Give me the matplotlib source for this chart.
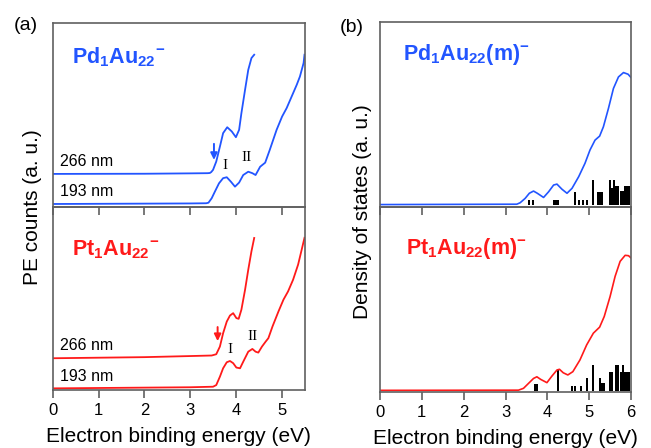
import matplotlib
matplotlib.use("Agg")
import matplotlib.pyplot as plt

# ── Colours / fonts ───────────────────────────────────────────────────────────

BLUE  = "#2255FF"
RED   = "#FF1A1A"
SPINE = "#606060"

plt.rcParams["font.family"] = ["Liberation Sans", "DejaVu Sans"]
plt.rcParams["mathtext.fontset"] = "custom"
plt.rcParams["mathtext.rm"] = "Liberation Sans"
plt.rcParams["mathtext.bf"] = "Liberation Sans:bold"

# ── Data: (a) photoelectron spectra ───────────────────────────────────────────

pd_266_e = [0.0, 2.0, 3.0, 3.38, 3.43, 3.46, 3.50, 3.57, 3.65, 3.72, 3.81, 3.91,
            4.00, 4.07, 4.12, 4.20, 4.27, 4.34, 4.40]
pd_266_y = [18.2, 18.3, 18.5, 18.6, 18.7, 19.2, 20.4, 24.9, 33.0, 40.3, 43.5, 41.2,
            38.1, 42.1, 51.1, 63.8, 74.6, 81.0, 82.8]

pd_193_e = [0.0, 3.0, 3.35, 3.40, 3.47, 3.54, 3.63, 3.72, 3.80, 3.89, 3.98, 4.07,
            4.16, 4.27, 4.36, 4.43, 4.53, 4.64, 4.74, 4.89, 5.01, 5.11, 5.22, 5.33,
            5.40, 5.48, 5.50]
pd_193_y = [1.9, 2.2, 2.3, 2.6, 5.0, 8.6, 13.1, 15.9, 16.4, 14.0, 11.3, 13.5,
            17.6, 19.4, 18.6, 17.6, 22.1, 24.3, 31.2, 42.1, 49.3, 53.9, 60.2, 66.5,
            71.0, 78.3, 82.8]

pt_266_e = [0.0, 2.0, 3.0, 3.47, 3.57, 3.65, 3.72, 3.80, 3.87, 3.94, 4.01, 4.06,
            4.12, 4.20, 4.27, 4.34, 4.40]
pt_266_y = [17.4, 18.0, 18.6, 18.9, 19.6, 23.8, 31.1, 37.5, 40.8, 42.1, 39.4, 39.0,
            44.0, 54.9, 65.9, 76.0, 83.3]

pt_193_e = [0.0, 3.0, 3.50, 3.57, 3.65, 3.72, 3.80, 3.87, 3.94, 4.01, 4.09, 4.16,
            4.27, 4.36, 4.43, 4.49, 4.57, 4.65, 4.71, 4.80, 4.93, 5.04, 5.14, 5.25,
            5.36, 5.43, 5.50]
pt_193_y = [0.9, 1.5, 1.8, 2.7, 7.3, 11.9, 15.2, 15.9, 14.7, 12.3, 11.9, 15.5,
            21.0, 22.5, 21.0, 20.5, 23.8, 26.5, 28.4, 34.8, 43.0, 49.5, 54.0, 60.4,
            68.7, 76.0, 83.4]

# onset arrows and band labels (energy, a.u.)
pd_arrow = (3.52, 25.8, 34.5)
pt_arrow = (3.60, 26.8, 34.5)
pd_bands = [(3.77, 22.7, "I"), (4.24, 27.0, "II")]
pt_bands = [(3.88, 22.0, "I"), (4.36, 29.3, "II")]

# ── Data: (b) simulated density of states ─────────────────────────────────────

pd_dos_e = [0.0, 3.27, 3.35, 3.47, 3.57, 3.67, 3.76, 3.91, 4.03, 4.15, 4.23, 4.35,
            4.47, 4.59, 4.75, 4.90, 5.02, 5.14, 5.25, 5.34, 5.46, 5.58, 5.70, 5.82,
            5.93, 6.00]
pd_dos_y = [0.0, 0.2, 1.0, 3.4, 6.2, 7.4, 6.2, 3.9, 7.0, 10.7, 11.2, 8.4,
            6.2, 8.9, 15.3, 22.6, 29.9, 35.3, 37.5, 42.6, 52.6, 63.6, 69.9, 72.3,
            71.4, 69.6]

pt_dos_e = [0.0, 3.31, 3.43, 3.55, 3.67, 3.75, 3.84, 3.99, 4.11, 4.23, 4.29, 4.38,
            4.49, 4.61, 4.78, 4.94, 5.10, 5.25, 5.36, 5.50, 5.62, 5.74, 5.86, 5.94,
            6.00]
pt_dos_y = [0.2, 0.3, 1.3, 4.0, 6.7, 7.6, 6.2, 4.4, 8.0, 11.3, 11.7, 9.8,
            8.6, 10.4, 16.8, 25.0, 31.4, 34.7, 40.5, 51.4, 62.4, 70.6, 73.9, 73.7,
            72.5]

# stick spectra (bin centre in eV, height in a.u.)
pd_bin_e = [3.55, 3.65, 4.15, 4.20, 4.25, 4.65, 4.75, 4.85, 4.95, 5.10, 5.20, 5.25,
            5.30, 5.50, 5.55, 5.60, 5.65, 5.70, 5.75, 5.80, 5.85, 5.90, 5.95]
pd_bin_h = [2.6, 2.6, 2.6, 2.6, 2.6, 6.7, 2.6, 2.6, 2.6, 13.2, 6.7, 6.7,
            6.7, 13.2, 9.3, 13.2, 10.4, 10.4, 7.7, 7.7, 10.4, 10.4, 10.4]

pt_bin_e = [3.70, 3.75, 4.25, 4.60, 4.65, 4.80, 4.95, 5.10, 5.25, 5.30, 5.35, 5.50,
            5.55, 5.65, 5.70, 5.75, 5.80, 5.85, 5.90, 5.95]
pt_bin_h = [3.6, 3.6, 11.7, 2.7, 2.7, 2.7, 6.8, 14.0, 6.8, 4.4, 4.4, 10.4,
            10.4, 14.0, 14.0, 10.4, 14.0, 10.4, 10.4, 10.4]

# ── Helpers ───────────────────────────────────────────────────────────────────

def style_axes(ax, xmax, top_panel):
    for sp in ax.spines.values():
        sp.set_color(SPINE)
        sp.set_linewidth(1.2)
    ax.set_yticks([])
    ax.set_xlim(0, xmax)
    ax.set_xticks(range(0, int(xmax) + 1))
    # top panel ticks hang down into the lower panel, lower panel ticks point out
    ax.tick_params(axis="x", direction="out", length=6, width=1.2,
                   color=SPINE, labelsize=12, pad=3,
                   labelbottom=not top_panel)
    if not top_panel:
        ax.set_facecolor("none")


def pes_panel(ax, color, name, e266, y266, e193, y193, arrow, bands, name_y):
    ax.plot(e266, y266, color=color, lw=1.3)
    ax.plot(e193, y193, color=color, lw=1.3)
    ax.set_ylim(0, 100)
    ax.text(0.16, y266[0] + 7.0, "266 nm", fontsize=11.5, va="center")
    ax.text(0.16, y193[0] + 6.7, "193 nm", fontsize=11.5, va="center")
    xa, y_tip, y_tail = arrow
    ax.annotate("", xy=(xa, y_tip), xytext=(xa, y_tail),
                arrowprops=dict(arrowstyle="-|>", color=color, lw=1.4,
                                mutation_scale=10, shrinkA=0, shrinkB=0))
    for xb, yb, lab in bands:
        ax.text(xb, yb, lab, fontsize=11, ha="center", va="center",
                family="Liberation Serif")
    ax.text(0.075, name_y, name, transform=ax.transAxes, color=color,
            fontsize=15.5, fontweight="bold", va="center")


def dos_panel(ax, color, name, de, dy, be, bh, ylo, name_x, name_y):
    ax.bar(be, bh, width=0.048, color="black", linewidth=0)
    ax.plot(de, dy, color=color, lw=1.2)
    ax.set_ylim(ylo, 100)
    ax.text(name_x, name_y, name, transform=ax.transAxes, color=color,
            fontsize=15.5, fontweight="bold", va="center")

# ── Figure ────────────────────────────────────────────────────────────────────

fig = plt.figure(figsize=(6.51, 4.48), dpi=100)

W, H = 651.0, 448.0
def box(x0, x1, y0, y1):
    return [x0 / W, 1 - y1 / H, (x1 - x0) / W, (y1 - y0) / H]

ax_a1 = fig.add_axes(box(53, 304.5, 23, 207.5))
ax_a2 = fig.add_axes(box(53, 304.5, 207.5, 390))
ax_b1 = fig.add_axes(box(380, 631, 22, 207.5))
ax_b2 = fig.add_axes(box(380, 631, 207.5, 392))

pes_panel(ax_a1, BLUE, r"$\mathbf{Pd_1Au_{22}}{}^{\mathbf{-}}$",
          pd_266_e, pd_266_y, pd_193_e, pd_193_y, pd_arrow, pd_bands, 0.816)
pes_panel(ax_a2, RED, r"$\mathbf{Pt_1Au_{22}}{}^{\mathbf{-}}$",
          pt_266_e, pt_266_y, pt_193_e, pt_193_y, pt_arrow, pt_bands, 0.767)

dos_panel(ax_b1, BLUE, r"$\mathbf{Pd_1Au_{22}(m)^{-}}$",
          pd_dos_e, pd_dos_y, pd_bin_e, pd_bin_h, -1.6, 0.09, 0.827)
dos_panel(ax_b2, RED, r"$\mathbf{Pt_1Au_{22}(m)^{-}}$",
          pt_dos_e, pt_dos_y, pt_bin_e, pt_bin_h, -0.7, 0.104, 0.779)

style_axes(ax_a1, 5.5, True)
style_axes(ax_a2, 5.5, False)
style_axes(ax_b1, 6.0, True)
style_axes(ax_b2, 6.0, False)

for ax in (ax_a2, ax_b2):
    ax.set_xlabel("Electron binding energy (eV)", fontsize=15)
    ax.xaxis.set_label_coords(0.5, -0.20)

fig.text(33 / W, 1 - 207 / H, "PE counts (a. u.)", rotation=90,
         fontsize=15, ha="center", va="center")
fig.text(362 / W, 1 - 212 / H, "Density of states (a. u.)", rotation=90,
         fontsize=15, ha="center", va="center")
fig.text(26 / W, 1 - 26 / H, "(a)", fontsize=14, ha="center", va="center")
fig.text(352 / W, 1 - 27 / H, "(b)", fontsize=14, ha="center", va="center")

fig.savefig("out.png", dpi=100, facecolor="white")
plt.close(fig)
